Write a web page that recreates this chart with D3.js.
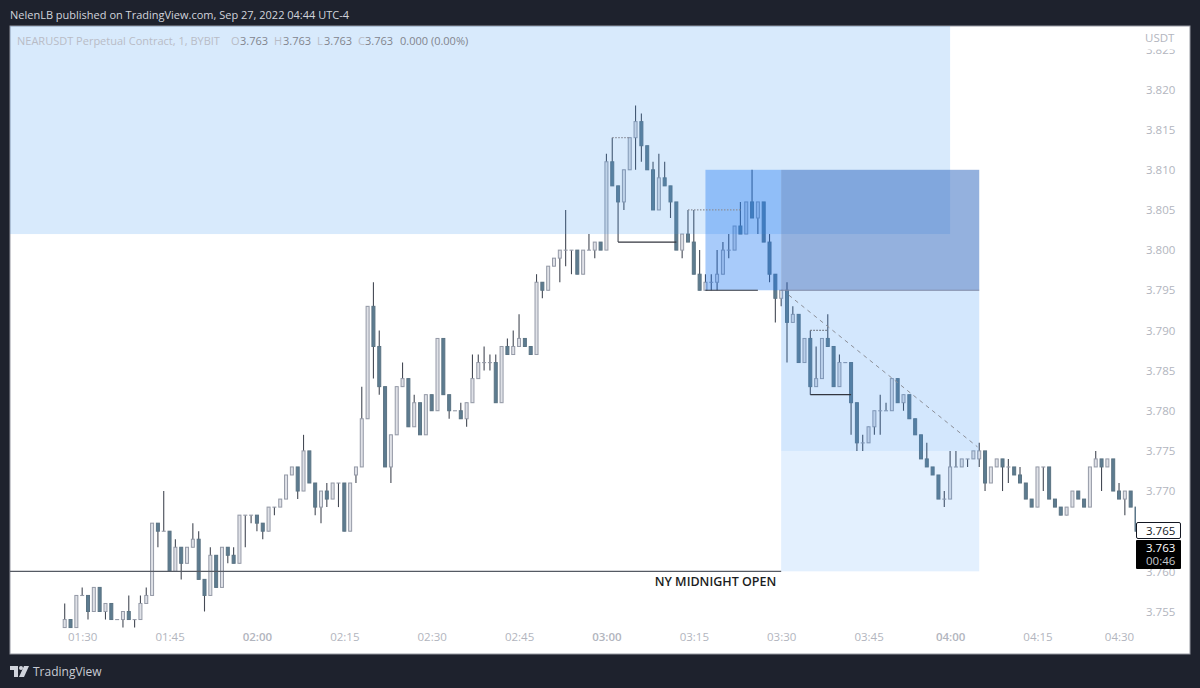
<!DOCTYPE html>
<html>
<head>
<meta charset="utf-8">
<script src="https://d3js.org/d3.v7.min.js"></script>
<style>
html, body { margin: 0; padding: 0; background: #1e222d; }
svg { display: block; }
text { font-family: "Open Sans", sans-serif; }
</style>
</head>
<body>
<div id="chart"></div>
<script>
var opens = [
3.753,3.754,3.753,3.757,3.757,3.755,3.758,3.755,3.756,3.754,3.754,3.755,3.754,3.754,3.756,3.757,3.766,3.765,3.765,3.760,3.763,3.761,3.763,3.764,3.759,
3.757,3.762,3.758,3.763,3.762,3.761,3.767,3.767,3.767,3.766,3.765,3.768,3.768,3.769,3.772,3.773,3.770,3.775,3.771,3.768,3.770,3.769,3.771,3.771,3.765,
3.772,3.773,3.779,3.793,3.788,3.783,3.773,3.777,3.783,3.784,3.778,3.781,3.777,3.782,3.780,3.789,3.782,3.780,3.780,3.779,3.781,3.784,3.786,3.786,3.786,
3.781,3.788,3.787,3.788,3.789,3.788,3.787,3.796,3.795,3.798,3.799,3.800,3.800,3.800,3.797,3.800,3.800,3.801,3.800,3.811,3.808,3.806,3.810,3.814,3.816,
3.813,3.810,3.805,3.809,3.808,3.806,3.800,3.802,3.801,3.797,3.795,3.796,3.796,3.797,3.800,3.800,3.803,3.802,3.806,3.804,3.806,3.801,3.797,3.794,3.795,
3.791,3.792,3.786,3.789,3.783,3.784,3.789,3.788,3.783,3.786,3.786,3.781,3.776,3.776,3.778,3.780,3.780,3.780,3.784,3.781,3.782,3.779,3.777,3.774,3.773,
3.772,3.769,3.769,3.773,3.773,3.774,3.774,3.774,3.775,3.771,3.773,3.774,3.773,3.773,3.772,3.771,3.769,3.768,3.773,3.773,3.769,3.768,3.767,3.768,3.770,
3.769,3.768,3.773,3.774,3.773,3.774,3.770,3.769,3.770,3.768];
var highs = [
3.756,3.754,3.757,3.758,3.757,3.758,3.758,3.756,3.756,3.754,3.755,3.757,3.754,3.757,3.758,3.766,3.766,3.770,3.765,3.764,3.763,3.763,3.766,3.765,3.759,
3.763,3.762,3.763,3.763,3.763,3.767,3.767,3.767,3.767,3.766,3.768,3.768,3.769,3.772,3.773,3.773,3.777,3.775,3.771,3.770,3.771,3.771,3.771,3.771,3.771,
3.773,3.783,3.793,3.796,3.790,3.783,3.777,3.783,3.786,3.784,3.782,3.781,3.782,3.782,3.789,3.789,3.782,3.780,3.781,3.781,3.787,3.787,3.788,3.787,3.787,
3.788,3.789,3.790,3.792,3.789,3.788,3.797,3.796,3.798,3.799,3.800,3.805,3.800,3.800,3.800,3.802,3.801,3.801,3.812,3.814,3.808,3.810,3.814,3.818,3.817,
3.813,3.811,3.812,3.811,3.808,3.806,3.802,3.805,3.805,3.800,3.797,3.797,3.800,3.801,3.802,3.803,3.806,3.806,3.810,3.806,3.806,3.802,3.797,3.795,3.796,
3.793,3.792,3.789,3.790,3.788,3.789,3.792,3.788,3.787,3.786,3.786,3.781,3.777,3.778,3.780,3.782,3.781,3.784,3.784,3.782,3.782,3.779,3.777,3.776,3.773,
3.772,3.770,3.775,3.775,3.774,3.774,3.775,3.776,3.775,3.773,3.774,3.774,3.774,3.773,3.773,3.771,3.769,3.773,3.773,3.773,3.769,3.768,3.768,3.770,3.770,
3.769,3.773,3.775,3.774,3.774,3.774,3.771,3.770,3.770,3.768];
var lows = [
3.753,3.753,3.753,3.757,3.754,3.755,3.755,3.754,3.754,3.754,3.753,3.754,3.753,3.754,3.756,3.757,3.763,3.765,3.760,3.760,3.759,3.761,3.763,3.759,3.755,
3.757,3.758,3.758,3.761,3.761,3.761,3.763,3.766,3.765,3.764,3.765,3.767,3.768,3.769,3.772,3.769,3.770,3.771,3.767,3.766,3.768,3.769,3.768,3.765,3.765,
3.771,3.773,3.779,3.784,3.782,3.773,3.771,3.777,3.783,3.778,3.778,3.777,3.777,3.780,3.780,3.782,3.779,3.780,3.779,3.778,3.781,3.784,3.785,3.785,3.781,
3.781,3.787,3.787,3.788,3.788,3.787,3.787,3.794,3.795,3.798,3.796,3.798,3.797,3.797,3.797,3.800,3.799,3.800,3.800,3.808,3.801,3.805,3.810,3.810,3.811,
3.810,3.805,3.805,3.808,3.804,3.800,3.799,3.801,3.797,3.795,3.795,3.795,3.795,3.797,3.799,3.800,3.802,3.802,3.804,3.802,3.801,3.796,3.791,3.793,3.786,
3.791,3.786,3.786,3.782,3.783,3.784,3.788,3.783,3.783,3.786,3.777,3.775,3.775,3.776,3.777,3.777,3.780,3.780,3.781,3.780,3.779,3.777,3.774,3.773,3.772,
3.769,3.768,3.769,3.773,3.773,3.773,3.774,3.773,3.770,3.771,3.773,3.770,3.771,3.772,3.771,3.769,3.768,3.768,3.770,3.769,3.768,3.767,3.767,3.768,3.769,
3.768,3.768,3.773,3.770,3.773,3.770,3.769,3.767,3.768,3.765];
var closes = [
3.754,3.753,3.757,3.757,3.755,3.758,3.755,3.756,3.754,3.754,3.755,3.754,3.754,3.756,3.757,3.766,3.765,3.765,3.760,3.763,3.761,3.763,3.764,3.759,3.757,
3.762,3.758,3.763,3.762,3.761,3.767,3.767,3.767,3.766,3.765,3.768,3.768,3.769,3.772,3.773,3.770,3.775,3.771,3.768,3.770,3.769,3.771,3.771,3.765,3.771,
3.773,3.779,3.793,3.788,3.783,3.773,3.777,3.783,3.784,3.778,3.781,3.777,3.782,3.780,3.789,3.782,3.780,3.780,3.779,3.781,3.784,3.786,3.786,3.786,3.781,
3.788,3.787,3.788,3.789,3.788,3.787,3.796,3.795,3.798,3.799,3.800,3.800,3.800,3.797,3.800,3.800,3.801,3.800,3.811,3.808,3.806,3.810,3.814,3.816,3.813,
3.810,3.805,3.809,3.808,3.806,3.800,3.802,3.801,3.797,3.795,3.796,3.796,3.797,3.800,3.800,3.803,3.802,3.806,3.804,3.806,3.801,3.797,3.794,3.795,3.791,
3.792,3.786,3.789,3.783,3.784,3.789,3.788,3.783,3.786,3.786,3.781,3.776,3.776,3.778,3.780,3.780,3.780,3.784,3.781,3.782,3.779,3.777,3.774,3.773,3.772,
3.769,3.769,3.773,3.773,3.774,3.774,3.775,3.775,3.771,3.773,3.774,3.773,3.773,3.772,3.771,3.769,3.768,3.773,3.773,3.769,3.768,3.767,3.768,3.770,3.769,
3.768,3.773,3.774,3.773,3.774,3.770,3.769,3.770,3.768,3.765];

var timeBars = [3, 18, 33, 48, 63, 78, 93, 108, 123, 138, 152, 167, 181];
var timeLabels = ["01:30", "01:45", "02:00", "02:15", "02:30", "02:45", "03:00", "03:15", "03:30", "03:45", "04:00", "04:15", "04:30"];
var boldTimes = ["02:00", "03:00", "04:00"];
var priceTicks = [3.755, 3.760, 3.765, 3.770, 3.775, 3.780, 3.785, 3.790, 3.795, 3.800, 3.805, 3.810, 3.815, 3.820, 3.825];

var width = 1200, height = 688;
var pane = { left: 10, top: 26, right: 1190, bottom: 654, plotRight: 1136 };

var svg = d3.select("#chart").append("svg").attr("width", width).attr("height", height);

// x is in bars, not time: the feed skips minutes with no trades
var x = d3.scaleLinear().domain([0, 184]).range([64.7, 1136.5]);
var y = d3.scaleLinear().domain([3.755, 3.82]).range([611.5, 89.5]);

svg.append("rect")
    .attr("x", pane.left).attr("y", pane.top)
    .attr("width", pane.right - pane.left).attr("height", pane.bottom - pane.top)
    .attr("fill", "#fff").attr("stroke", "#9598a1");

svg.append("clipPath").attr("id", "plot").append("rect")
    .attr("x", pane.left).attr("y", pane.top)
    .attr("width", pane.plotRight - pane.left).attr("height", pane.bottom - pane.top);

var plot = svg.append("g").attr("clip-path", "url(#plot)");

// candles
var candles = plot.selectAll(".candle").data(opens).enter().append("g").attr("class", "candle");

candles.append("line")
    .attr("x1", function (d, i) { return x(i); })
    .attr("x2", function (d, i) { return x(i); })
    .attr("y1", function (d, i) { return y(highs[i]); })
    .attr("y2", function (d, i) { return y(lows[i]); })
    .attr("stroke", "#454a55")
    .attr("stroke-width", 1.1);

candles.append("rect")
    .attr("x", function (d, i) { return x(i) - 1.5; })
    .attr("width", 3)
    .attr("y", function (d, i) { return y(Math.max(opens[i], closes[i])); })
    .attr("height", function (d, i) { return Math.max(Math.abs(y(opens[i]) - y(closes[i])), 0.1); })
    .attr("fill", function (d, i) { return closes[i] < opens[i] ? "#5d7c90" : "#dfe1e7"; })
    .attr("stroke", function (d, i) { return closes[i] < opens[i] ? "#5b7383" : "#959aa7"; })
    .attr("stroke-width", 1);

// zones drawn by the author on top of the candles
var zoneFrom = [-10, 110, 123, 123, 123];
var zoneTo = [152, 123, 157, 157, 157];
var zoneHigh = [3.83, 3.81, 3.81, 3.795, 3.775];
var zoneLow = [3.802, 3.795, 3.795, 3.775, 3.76];
var zoneFill = ["#3d94f0", "#1976f2", "#2963bd", "#2f8ff5", "#2f8ff5"];
var zoneAlpha = [0.2, 0.38, 0.5, 0.21, 0.135];

plot.selectAll(".zone").data(zoneFrom).enter().append("rect")
    .attr("class", "zone")
    .attr("x", function (d) { return Math.max(x(d), pane.left); })
    .attr("width", function (d, i) { return x(zoneTo[i]) - Math.max(x(d), pane.left); })
    .attr("y", function (d, i) { return Math.max(y(zoneHigh[i]), pane.top); })
    .attr("height", function (d, i) { return y(zoneLow[i]) - Math.max(y(zoneHigh[i]), pane.top); })
    .attr("fill", function (d, i) { return zoneFill[i]; })
    .attr("fill-opacity", function (d, i) { return zoneAlpha[i]; });

// drawn levels
var levelFrom = [-10, 95, 110, 123, 128, 94, 107, 128];
var levelTo = [123, 105, 119, 157, 135, 97, 116, 131];
var levelPrice = [3.76, 3.801, 3.795, 3.795, 3.782, 3.814, 3.805, 3.79];
var levelColor = ["#555a63", "#33363f", "#33363f", "#7f8aa6", "#33363f", "#8a8f9a", "#8a8f9a", "#6f737d"];
var levelDash = [null, null, null, null, null, "1.5,1.5", "1.5,1.5", "1.5,1.5"];

plot.selectAll(".level").data(levelPrice).enter().append("line")
    .attr("class", "level")
    .attr("x1", function (d, i) { return Math.max(x(levelFrom[i]), pane.left); })
    .attr("x2", function (d, i) { return x(levelTo[i]); })
    .attr("y1", function (d) { return y(d); })
    .attr("y2", function (d) { return y(d); })
    .attr("stroke", function (d, i) { return levelColor[i]; })
    .attr("stroke-width", 1.2)
    .attr("stroke-dasharray", function (d, i) { return levelDash[i]; });

plot.append("line")
    .attr("x1", x(124.3)).attr("y1", y(3.7944))
    .attr("x2", x(156.7)).attr("y2", y(3.7755))
    .attr("stroke", "#8c8f98")
    .attr("stroke-dasharray", "4,4");

plot.append("text")
    .attr("x", 715.5).attr("y", y(3.76) + 14.5)
    .attr("text-anchor", "middle")
    .attr("font-size", 12.5).attr("font-weight", 600)
    .attr("fill", "#1b1d22")
    .text("NY MIDNIGHT OPEN");

// axes
var timeAxis = d3.axisBottom(x)
    .tickValues(timeBars)
    .tickFormat(function (d, i) { return timeLabels[i]; })
    .tickSize(0)
    .tickPadding(0);

var timeG = svg.append("g").attr("transform", "translate(0,633)").call(timeAxis);
timeG.select(".domain").remove();
timeG.selectAll("text")
    .attr("font-size", 11.5)
    .attr("font-family", "'Open Sans', sans-serif")
    .attr("fill", "#b2b5be")
    .attr("font-weight", function (d, i) { return boldTimes.indexOf(timeLabels[i]) >= 0 ? 600 : 400; });

var priceAxis = d3.axisRight(y)
    .tickValues(priceTicks)
    .tickFormat(d3.format(".3f"))
    .tickSize(0)
    .tickPadding(0);

var priceG = svg.append("g").attr("transform", "translate(1146,0)").call(priceAxis);
priceG.select(".domain").remove();
priceG.selectAll("text")
    .attr("font-size", 11.5)
    .attr("font-family", "'Open Sans', sans-serif")
    .attr("fill", "#b2b5be");

// top of price scale covers most of the clipped 3.825
svg.append("rect").attr("x", 1137).attr("y", 27).attr("width", 52).attr("height", 22.5).attr("fill", "#fff");
svg.append("text")
    .attr("x", 1145).attr("y", 42)
    .attr("font-size", 11.5).attr("fill", "#b2b5be")
    .text("USDT");

// price labels
svg.append("rect")
    .attr("x", 1136.5).attr("y", 522.5).attr("width", 44).attr("height", 16).attr("rx", 1.5)
    .attr("fill", "#fff").attr("stroke", "#131722");
svg.append("text")
    .attr("x", 1146).attr("y", 534.5)
    .attr("font-size", 11.5).attr("fill", "#131722")
    .text("3.765");

svg.append("rect")
    .attr("x", 1136).attr("y", 540).attr("width", 45).attr("height", 29).attr("rx", 1)
    .attr("fill", "#000");
svg.append("text")
    .attr("x", 1146).attr("y", 551.5)
    .attr("font-size", 11.5).attr("fill", "#fff")
    .text("3.763");
svg.append("text")
    .attr("x", 1146).attr("y", 565)
    .attr("font-size", 11.5).attr("fill", "#c4c6cc")
    .text("00:46");

// header
svg.append("text")
    .attr("x", 10).attr("y", 19)
    .attr("font-size", 11).attr("fill", "#d1d4dc")
    .text("NelenLB published on TradingView.com, Sep 27, 2022 04:44 UTC-4");

var legendLabels = ["NEARUSDT Perpetual Contract, 1, BYBIT", "O", "3.763", "H", "3.763", "L", "3.763", "C", "3.763", "0.000 (0.00%)"];
var legendX = [17, 231, 240, 274, 283, 317, 324, 358, 365, 400];
var legendDark = [false, false, true, false, true, false, true, false, true, true];

svg.selectAll(".legend").data(legendLabels).enter().append("text")
    .attr("class", "legend")
    .attr("x", function (d, i) { return legendX[i]; })
    .attr("y", 45)
    .attr("font-size", 11)
    .attr("fill", function (d, i) { return legendDark[i] ? "#82858e" : "#b8bcc6"; })
    .text(function (d) { return d; });

// footer logo
var logo = svg.append("g").attr("fill", "#d1d4dc").attr("transform", "translate(10,666)");
logo.append("path").attr("d", "M0 0H8V11H4V4H0Z");
logo.append("circle").attr("cx", 11).attr("cy", 2).attr("r", 2);
logo.append("path").attr("d", "M14 0H19L14 11H9Z");
svg.append("text")
    .attr("x", 33).attr("y", 676)
    .attr("font-size", 12).attr("fill", "#c8cbd3")
    .text("TradingView");
</script>
</body>
</html>
